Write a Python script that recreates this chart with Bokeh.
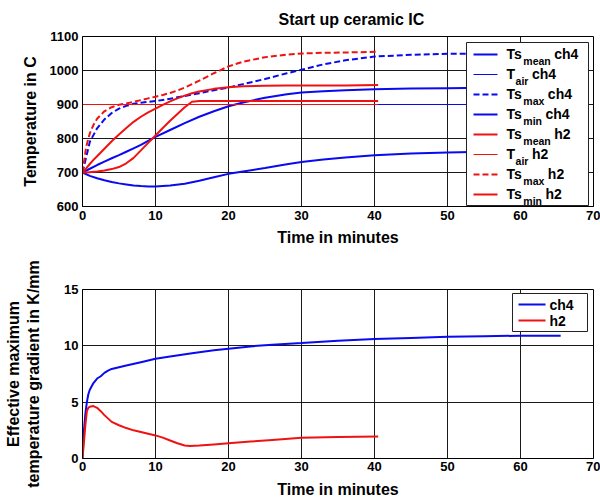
from bokeh.plotting import figure
from bokeh.models import Range1d, Label, BoxAnnotation, Arrow
from bokeh.layouts import column
from bokeh.embed import file_html
from bokeh.resources import INLINE

# ---------------- data ----------------
x_ticks = [0, 10, 20, 30, 40, 50, 60, 70]
y_ticks_top = [600, 700, 800, 900, 1000, 1100]
y_ticks_bottom = [0, 5, 10, 15]

t_ch4 = [0, 1, 2, 3, 4, 5, 6, 7, 8, 9, 10, 12, 14, 16, 18, 20, 22, 25, 28, 30,
         33, 36, 40, 45, 50, 55, 60, 65.5]
ts_mean_ch4 = [700, 711, 722, 732, 742, 751, 761, 771, 781, 793, 805, 825, 845, 864,
               880, 895, 906, 920, 930, 935, 939, 942, 945, 947, 948, 949, 950, 950]
ts_max_ch4 = [700, 790, 830, 856, 875, 888, 896, 902, 905, 908, 910, 917, 925, 933,
              942, 950, 960, 975, 992, 1002, 1018, 1030, 1041, 1046, 1049, 1050, 1051, 1051]
ts_min_ch4 = [700, 690, 683, 677, 672, 668, 665, 662, 660, 659, 659, 662, 667, 676,
              686, 696, 703, 713, 724, 731, 738, 744, 751, 756, 759, 761, 762, 762]
t_air_ch4_t = [0, 65.5]
t_air_ch4 = [900, 900]

t_h2 = [0, 0.5, 1, 1.5, 2, 3, 4, 5, 6, 7, 8, 9, 10, 11, 12, 13, 14, 15, 16, 18,
        20, 22, 25, 28, 30, 33, 36, 40.5]
ts_mean_h2 = [700, 712, 725, 737, 748, 770, 792, 812, 831, 849, 864, 877, 888, 899,
              909, 918, 926, 933, 938, 946, 951, 954, 955, 956, 956, 956, 956, 957]
ts_max_h2 = [700, 775, 815, 840, 858, 880, 892, 899, 903, 908, 913, 918, 923, 928,
             934, 941, 950, 960, 970, 992, 1012, 1026, 1039, 1047, 1050, 1052, 1053, 1055]
ts_min_h2 = [700, 700, 701, 702, 703, 706, 710, 716, 727, 743, 765, 787, 809, 831,
             852, 872, 892, 908, 910, 910, 910, 910, 910, 910, 910, 910, 910, 910]
t_air_h2_t = [0, 40.5]
t_air_h2 = [900, 900]

t_grad_ch4 = [0, 0.2, 0.4, 0.6, 0.8, 1, 1.5, 2, 2.5, 3, 3.5, 4, 5, 6, 8, 10, 12, 15,
              18, 20, 23, 26, 30, 35, 40, 45, 50, 55, 60, 65.5]
grad_ch4 = [0, 2.5, 4.0, 5.0, 5.7, 6.1, 6.7, 7.1, 7.3, 7.6, 7.8, 7.95, 8.1, 8.25, 8.55,
            8.85, 9.05, 9.35, 9.6, 9.75, 9.95, 10.1, 10.25, 10.45, 10.6, 10.7, 10.8,
            10.85, 10.9, 10.9]
t_grad_h2 = [0, 0.2, 0.4, 0.6, 0.8, 1, 1.5, 2, 2.5, 3, 4, 5, 6, 7, 8, 9, 10, 11, 12,
             13, 14, 14.7, 16, 18, 20, 23, 26, 30, 35, 40.5]
grad_h2 = [0, 1.5, 3.0, 4.2, 4.5, 4.6, 4.65, 4.5, 4.2, 3.85, 3.25, 2.95, 2.7, 2.5,
           2.35, 2.2, 2.05, 1.85, 1.6, 1.35, 1.15, 1.1, 1.15, 1.25, 1.35, 1.5, 1.65,
           1.85, 1.9, 1.95]

title_text = "Start up ceramic IC"
legend_top = [("Ts", "mean", "ch4"), ("T", "air", "ch4"), ("Ts", "max", "ch4"),
              ("Ts", "min", "ch4"), ("Ts", "mean", "h2"), ("T", "air", "h2"),
              ("Ts", "max", "h2"), ("Ts", "min", "h2")]
legend_bottom = ["ch4", "h2"]

# ---------------- styling ----------------
BLUE = "#0a0af0"
RED = "#f01212"
FONT = "Liberation Sans"
DASH = "6 3"

AW = {"T": .611, "s": .556, "m": .889, "e": .556, "a": .556, "n": .611, "i": .278,
      "r": .389, "x": .556, "c": .556, "h": .611, "2": .556, "4": .556, " ": .278}


def tw(s, size):
    return sum(AW.get(ch, .6) for ch in s) * size


FW, FH1, FH2 = 511, 170, 169


def style(p, yticks, ylabel):
    p.x_range = Range1d(0, 70)
    p.xaxis.ticker = x_ticks
    p.yaxis.ticker = yticks
    p.xgrid.ticker = x_ticks
    p.ygrid.ticker = yticks
    for g in (p.xgrid, p.ygrid):
        g.grid_line_color = "#1a1a1a"
        g.grid_line_width = 1
        g.grid_line_alpha = 1
    p.outline_line_color = "black"
    p.outline_line_width = 1
    p.outline_line_alpha = 1
    for ax in (p.xaxis, p.yaxis):
        ax.major_tick_out = 0
        ax.major_tick_in = 0
        ax.minor_tick_line_color = None
        ax.axis_line_color = "black"
        ax.major_label_text_font = FONT
        ax.major_label_text_font_style = "bold"
        ax.major_label_text_font_size = "13px"
        ax.major_label_text_color = "black"
        ax.axis_label_text_font = FONT
        ax.axis_label_text_font_style = "bold"
        ax.axis_label_text_font_size = "16px"
        ax.axis_label_text_color = "black"
    p.xaxis.axis_label = "Time in minutes"
    p.yaxis.axis_label = ylabel
    p.yaxis.major_label_standoff = 4


def X(px):
    return px * 70.0 / FW


def Y1(py):
    return 1100 - py * 500.0 / FH1


def Y2(py):
    return 15 - py * 15.0 / FH2


def lab(p, x, y, text, size):
    p.add_layout(Label(x=x, y=y, text=text, text_font=FONT, text_font_style="bold",
                       text_font_size=size, text_color="black", text_align="left",
                       text_baseline="middle"))


# ---------------- top figure ----------------
p1 = figure(width=600, height=255, output_backend="svg", toolbar_location=None,
            min_border_left=82, min_border_right=7, min_border_top=36,
            min_border_bottom=49, y_range=Range1d(600, 1100))
style(p1, y_ticks_top, "Temperature in C")
p1.xaxis.major_label_standoff = 4
p1.xaxis.axis_label_standoff = 6
p1.yaxis.axis_label_standoff = 8

p1.title.text = title_text
p1.title.text_font = FONT
p1.title.text_font_style = "bold"
p1.title.text_font_size = "16px"
p1.title.text_color = "black"
p1.title.align = "left"
p1.title.offset = 196
p1.title.standoff = 17

p1.line(t_ch4, ts_mean_ch4, line_color=BLUE, line_width=2)
p1.line(t_air_ch4_t, t_air_ch4, line_color=BLUE, line_width=1)
p1.line(t_ch4, ts_max_ch4, line_color=BLUE, line_width=2, line_dash=DASH)
p1.line(t_ch4, ts_min_ch4, line_color=BLUE, line_width=2)
p1.line(t_h2, ts_mean_h2, line_color=RED, line_width=2)
p1.line(t_air_h2_t, t_air_h2, line_color=RED, line_width=1)
p1.line(t_h2, ts_max_h2, line_color=RED, line_width=2, line_dash=DASH)
p1.line(t_h2, ts_min_h2, line_color=RED, line_width=2)

styles_top = [(BLUE, 2, "solid"), (BLUE, 1, "solid"), (BLUE, 2, DASH), (BLUE, 2, "solid"),
              (RED, 2, "solid"), (RED, 1, "solid"), (RED, 2, DASH), (RED, 2, "solid")]

p1.add_layout(BoxAnnotation(left=X(384), right=X(506), top=Y1(6), bottom=Y1(169),
                            fill_color="white", fill_alpha=1, line_color="#222222",
                            line_width=1, line_alpha=1))
for i, ((main, sub, suf), (col, lw, dash)) in enumerate(zip(legend_top, styles_top)):
    ly = 18 + 20 * i
    p1.add_layout(Arrow(end=None, x_start=X(391), y_start=Y1(ly), x_end=X(415), y_end=Y1(ly),
                        line_color=col, line_width=lw, line_dash=dash))
    x0 = 424
    lab(p1, X(x0), Y1(17.7 + 20 * i), main, "14px")
    x1 = x0 + tw(main, 14) + 0.5
    lab(p1, X(x1), Y1(24.3 + 20 * i), sub, "10.5px")
    x2 = x1 + tw(sub, 10.5) + 3.5
    lab(p1, X(x2), Y1(17.7 + 20 * i), suf, "14px")

# ---------------- bottom figure ----------------
p2 = figure(width=600, height=247, output_backend="svg", toolbar_location=None,
            min_border_left=82, min_border_right=7, min_border_top=34,
            min_border_bottom=44, y_range=Range1d(0, 15))
style(p2, y_ticks_bottom, "Effective maximum\ntemperature gradient in K/mm")
p2.xaxis.major_label_standoff = 3
p2.xaxis.axis_label_standoff = 7
p2.yaxis.axis_label_standoff = 19
p2.yaxis.axis_label_text_line_height = 1.15

p2.line(t_grad_ch4, grad_ch4, line_color=BLUE, line_width=2)
p2.line(t_grad_h2, grad_h2, line_color=RED, line_width=2)

p2.add_layout(BoxAnnotation(left=X(430), right=X(505), top=Y2(4), bottom=Y2(42),
                            fill_color="white", fill_alpha=1, line_color="#222222",
                            line_width=1, line_alpha=1))
for i, (name, col) in enumerate(zip(legend_bottom, [BLUE, RED])):
    ly = 15 + 16 * i
    p2.add_layout(Arrow(end=None, x_start=X(436), y_start=Y2(ly), x_end=X(463), y_end=Y2(ly),
                        line_color=col, line_width=2))
    lab(p2, X(467), Y2(15.4 + 16 * i), name, "14px")

layout = column(p1, p2)
open("out.html", "w").write(file_html(layout, INLINE))
